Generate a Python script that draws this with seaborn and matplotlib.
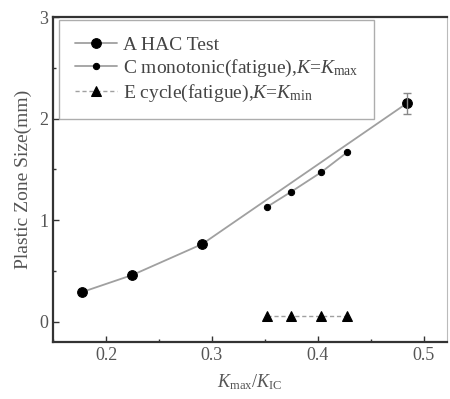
import matplotlib
matplotlib.use("Agg")
import matplotlib.pyplot as plt
import seaborn as sns
import pandas as pd
from matplotlib.ticker import MultipleLocator

# Data
a_x = [0.177, 0.225, 0.291, 0.484]
a_y = [0.29, 0.46, 0.765, 2.15]
a_err = [0.0, 0.0, 0.0, 0.10]

c_x = [0.352, 0.375, 0.403, 0.428]
c_y = [1.13, 1.28, 1.47, 1.67]

e_x = [0.352, 0.375, 0.403, 0.428]
e_y = [0.06, 0.06, 0.06, 0.06]

labels = ["A HAC Test",
          r"C monotonic(fatigue),$K$=$K_{\mathrm{max}}$",
          r"E cycle(fatigue),$K$=$K_{\mathrm{min}}$"]

sns.set_theme(style="white")
plt.rcParams["font.family"] = ["Liberation Serif", "DejaVu Serif"]
plt.rcParams["mathtext.fontset"] = "custom"
plt.rcParams["mathtext.it"] = "Liberation Serif:italic"
plt.rcParams["mathtext.rm"] = "Liberation Serif"

fig = plt.figure(figsize=(4.5, 3.99), dpi=100)
ax = fig.add_axes([0.118, 0.143, 0.875, 0.814])

dfa = pd.DataFrame({"x": a_x, "y": a_y})
dfc = pd.DataFrame({"x": c_x, "y": c_y})
dfe = pd.DataFrame({"x": e_x, "y": e_y})

line_col = "#a0a0a0"
sns.lineplot(data=dfa, x="x", y="y", ax=ax, color=line_col, lw=1.3,
             marker="o", markersize=7, markerfacecolor="black",
             markeredgecolor="black", label=labels[0])
sns.lineplot(data=dfc, x="x", y="y", ax=ax, color=line_col, lw=1.3,
             marker="o", markersize=4.5, markerfacecolor="black",
             markeredgecolor="black", label=labels[1])
sns.lineplot(data=dfe, x="x", y="y", ax=ax, color=line_col, lw=1.0,
             linestyle=(0, (3, 2)),
             marker="^", markersize=7, markerfacecolor="black",
             markeredgecolor="black", label=labels[2])
ax.errorbar(a_x[-1:], a_y[-1:], yerr=a_err[-1:], fmt="none",
            ecolor="#888888", elinewidth=1, capsize=3)

ax.set_xlim(0.15, 0.522)
ax.set_ylim(-0.2, 3.0)
ax.xaxis.set_major_locator(MultipleLocator(0.1))
ax.xaxis.set_minor_locator(MultipleLocator(0.05))
ax.yaxis.set_major_locator(MultipleLocator(1))
ax.yaxis.set_minor_locator(MultipleLocator(0.5))
ax.tick_params(which="both", direction="in", color="#333333",
               bottom=True, left=True, top=False, right=False)
ax.tick_params(which="major", length=4, width=1, labelsize=13,
               labelcolor="#555555")
ax.tick_params(which="minor", length=2.5, width=1)
ax.set_xticks([0.2, 0.3, 0.4, 0.5])
ax.set_xticklabels(["0.2", "0.3", "0.4", "0.5"])
ax.set_yticks([0, 1, 2, 3])
ax.set_yticklabels(["0", "1", "2", "3"])

for side in ["left", "bottom", "top"]:
    ax.spines[side].set_color("#333333")
    ax.spines[side].set_linewidth(1.6)
ax.spines["right"].set_color("#bbbbbb")
ax.spines["right"].set_linewidth(0.8)

ax.set_xlabel(r"$K_{\mathrm{max}}$/$K_{\mathrm{IC}}$", fontsize=13,
              color="#555555", labelpad=6)
ax.set_ylabel("Plastic Zone Size(mm)", fontsize=14, color="#555555",
              labelpad=5)

leg = ax.legend(loc="upper left", bbox_to_anchor=(0.015, 0.99),
                borderaxespad=0,
                fontsize=14, frameon=True, fancybox=False,
                edgecolor="#999999", handlelength=2.2, handletextpad=0.3,
                borderpad=0.8, labelspacing=0.2)
leg.get_frame().set_linewidth(1.0)
for t in leg.get_texts():
    t.set_color("#444444")

fig.savefig("out.png", dpi=100)
